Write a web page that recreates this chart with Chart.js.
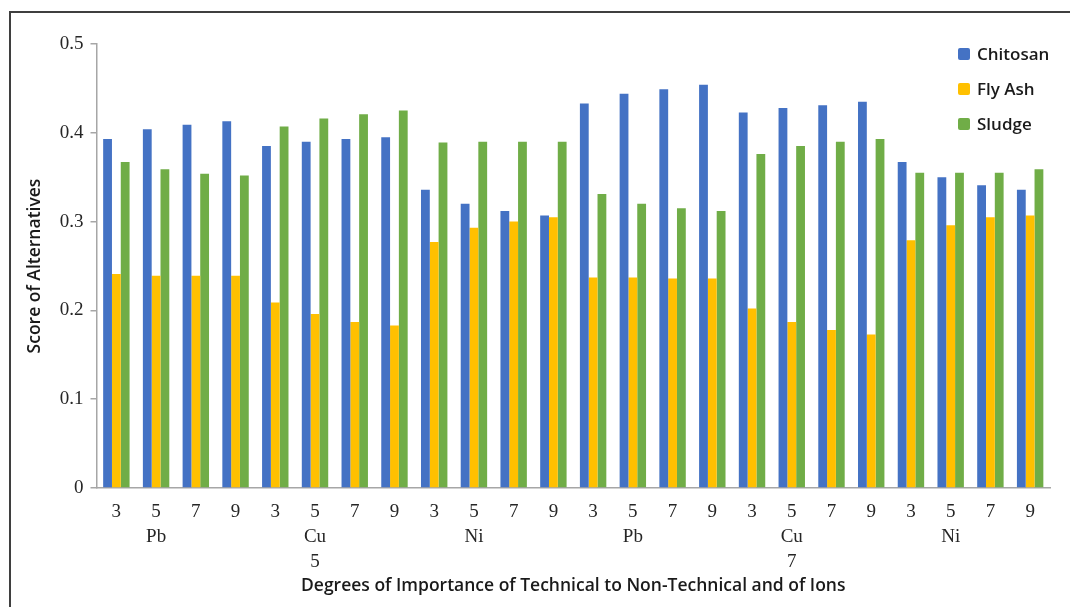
<!DOCTYPE html>
<html>
<head>
<meta charset="utf-8">
<script src="https://cdn.jsdelivr.net/npm/chart.js@4.4.1/dist/chart.umd.min.js"></script>
<style>
  html, body { margin: 0; padding: 0; background: #fff; }
  #wrap { position: relative; width: 1070px; height: 607px; overflow: hidden; }
  #frame { position: absolute; left: 9px; top: 11px; width: 1100px; height: 620px;
    border-top: 2px solid #3f3f3f; border-left: 2px solid #3f3f3f; pointer-events: none; }
  #legend { position: absolute; left: 958px; top: 36px; font-family: "Open Sans", sans-serif;
    font-weight: 600; font-size: 17px; color: #1a1a1a; }
  #legend div { display: flex; align-items: center; height: 35px; }
  #legend span.box { width: 12px; height: 12px; border-radius: 2px; margin-right: 7px; }
</style>
</head>
<body>
<div id="wrap">
  <canvas id="chart" width="1070" height="607"></canvas>
  <div id="frame"></div>
  <div id="legend"></div>
</div>
<script>
// category levels
const degrees = ['3', '5', '7', '9']
const ions = ['Pb', 'Cu', 'Ni']
const ratios = ['5', '7']

// scores (24 groups: ratio > ion > degree)
const chitosan = [
  0.393, 0.404, 0.409, 0.413, 0.385, 0.390, 0.393, 0.395, 0.336, 0.320, 0.312, 0.307,
  0.433, 0.444, 0.449, 0.454, 0.423, 0.428, 0.431, 0.435, 0.367, 0.350, 0.341, 0.336,
]
const flyAsh = [
  0.241, 0.239, 0.239, 0.239, 0.209, 0.196, 0.187, 0.183, 0.277, 0.293, 0.300, 0.305,
  0.237, 0.237, 0.236, 0.236, 0.202, 0.187, 0.178, 0.173, 0.279, 0.296, 0.305, 0.307,
]
const sludge = [
  0.367, 0.359, 0.354, 0.352, 0.407, 0.416, 0.421, 0.425, 0.389, 0.390, 0.390, 0.390,
  0.331, 0.320, 0.315, 0.312, 0.376, 0.385, 0.390, 0.393, 0.355, 0.355, 0.355, 0.359,
]

const seriesNames = ['Chitosan', 'Fly Ash', 'Sludge']
const seriesColors = ['#4472C4', '#FFC000', '#70AD47']

const labels = []
ratios.forEach(ratio => {
  ions.forEach(ion => {
    degrees.forEach((deg, i) => {
      const lines = [deg]
      if (i === 1) {
        lines.push(ion)
        if (ion === 'Cu') lines.push(ratio)
      }
      labels.push(lines)
    })
  })
})

const axisGray = '#a6a6a6'
const serif = { family: '"Liberation Serif", "Times New Roman", serif', size: 19, lineHeight: 1.3 }
const sans = { family: '"Open Sans", sans-serif', size: 17.5, weight: '600', lineHeight: 1.2 }

const values = [chitosan, flyAsh, sludge]
new Chart(document.getElementById('chart'), {
  type: 'bar',
  data: {
    labels,
    datasets: seriesNames.map((name, i) => ({
      label: name,
      data: values[i],
      backgroundColor: seriesColors[i],
      categoryPercentage: 0.665,
      barPercentage: 1.0,
    }))
  },
  options: {
    responsive: false,
    animation: false,
    devicePixelRatio: 1,
    layout: { padding: { left: 10, right: 20, top: 44, bottom: 0 } },
    plugins: {
      legend: { display: false },
      tooltip: { enabled: false },
    },
    scales: {
      x: {
        grid: { drawOnChartArea: false, drawTicks: false },
        border: { display: true, color: axisGray, width: 1.5 },
        ticks: { color: '#262626', font: serif, padding: 12, autoSkip: false, maxRotation: 0 },
        title: {
          display: true,
          text: 'Degrees of Importance of Technical to Non-Technical and of Ions',
          color: '#1a1a1a',
          font: sans,
          padding: { top: 4, bottom: 10 },
        },
        afterFit: scale => { scale.height = 119 },
      },
      y: {
        min: 0,
        max: 0.5,
        grid: { drawOnChartArea: false, drawTicks: true, tickLength: 6, color: axisGray, lineWidth: 1.5 },
        border: { display: true, color: axisGray, width: 1.5 },
        ticks: { stepSize: 0.1, color: '#262626', font: serif, padding: 7 },
        title: {
          display: true,
          text: 'Score of Alternatives',
          color: '#1a1a1a',
          font: sans,
          padding: { top: 15, bottom: 0 },
        },
        afterFit: scale => { scale.width = 86.5 },
      },
    },
  },
})

const legendEl = document.getElementById('legend')
seriesNames.forEach((name, i) => {
  const row = document.createElement('div')
  const box = document.createElement('span')
  box.className = 'box'
  box.style.background = seriesColors[i]
  row.appendChild(box)
  row.appendChild(document.createTextNode(name))
  legendEl.appendChild(row)
})
</script>
</body>
</html>
